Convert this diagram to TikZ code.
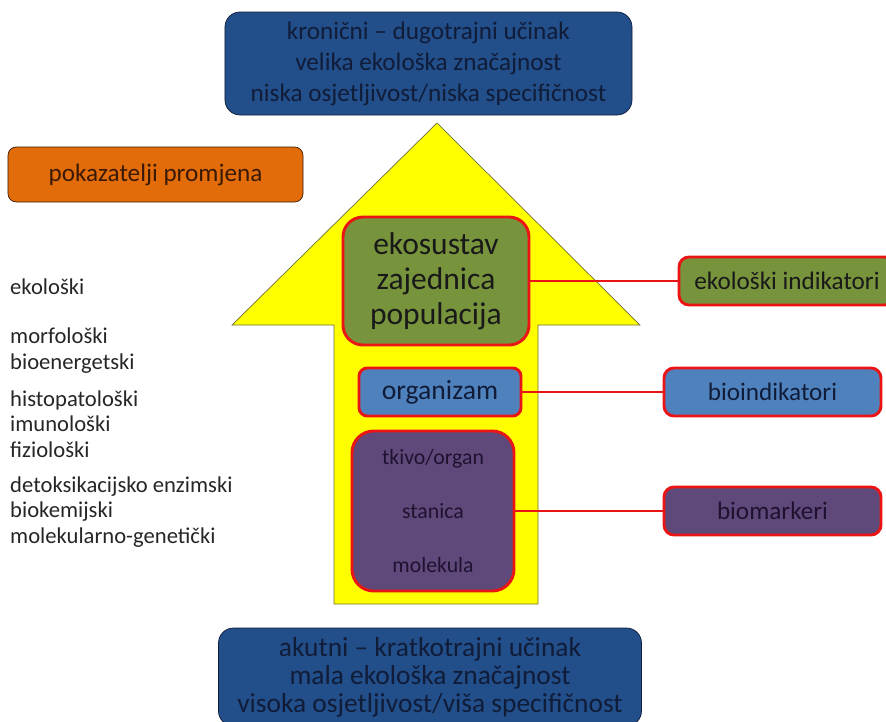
\documentclass[tikz,border=0pt]{standalone}
\usepackage{fontspec}
\setmainfont{Carlito}

\definecolor{boxnavy}{RGB}{34,78,138}
\definecolor{textnavy}{RGB}{16,28,56}
\definecolor{boxorange}{RGB}{227,108,10}
\definecolor{textbrown}{RGB}{58,26,6}
\definecolor{arrowyellow}{RGB}{255,255,0}
\definecolor{arrowedge}{RGB}{110,110,60}
\definecolor{boxgreen}{RGB}{119,147,60}
\definecolor{boxblue}{RGB}{79,129,189}
\definecolor{boxpurple}{RGB}{95,73,122}
\definecolor{textpurple}{RGB}{30,18,48}
\definecolor{linered}{RGB}{235,20,20}

\begin{document}
\begin{tikzpicture}[x=0.03cm, y=-0.03cm,
    effectbox/.style={draw=textnavy, line width=0.6pt, fill=boxnavy, text=textnavy,
        rounded corners=0.45cm, align=center, inner sep=0pt,
        font=\fontsize{21.5}{26.5}\selectfont},
    levelbox/.style={draw=linered, line width=2.5pt, rounded corners=0.3cm,
        align=center, inner sep=0pt},
    indbox/.style={levelbox, rounded corners=0.3cm, minimum width=6.51cm,
        minimum height=1.44cm, font=\fontsize{21.5}{26}\selectfont},
    sidetext/.style={anchor=west, align=left, inner sep=0pt, text=black!85,
        font=\fontsize{19.3}{21.8}\selectfont},
    redline/.style={draw=linered, line width=2.5pt}]

    % Picture size is 886 x 722 pixels, one unit = one pixel
    \useasboundingbox (0,0) rectangle (886,722);
    \clip (0,0) rectangle (886,722);

    % Corners of the big yellow arrow
    \coordinate (tip) at (437,123);
    \coordinate (headR) at (640,325);
    \coordinate (headL) at (232,325);
    \coordinate (shaftR) at (538,325);
    \coordinate (shaftL) at (334,325);

    % Draw the arrow pointing up
    \draw[fill=arrowyellow, draw=arrowedge, line width=0.6pt]
        (tip) -- (headR) -- (shaftR) -- (538,604) -- (334,604) -- (shaftL) -- (headL) -- cycle;

    % Top and bottom boxes with the type of effect
    \node[effectbox, minimum width=12.21cm, minimum height=3.09cm] (chronic) at (428.5,63.5)
        {kronični – dugotrajni učinak\\velika ekološka značajnost\\niska osjetljivost/niska specifičnost};
    \node[effectbox, minimum width=12.69cm, minimum height=2.94cm,
        font=\fontsize{23.4}{24}\selectfont] (acute) at (430,677)
        {akutni – kratkotrajni učinak\\mala ekološka značajnost\\visoka osjetljivost/viša specifičnost};

    % Orange title box on the left
    \node[draw=textbrown, line width=0.6pt, fill=boxorange, text=textbrown,
        rounded corners=0.25cm, minimum width=8.85cm, minimum height=1.65cm,
        font=\fontsize{21.5}{26}\selectfont] (changes) at (155.5,174.5) {pokazatelji promjena};

    % Levels of organisation inside the arrow
    \node[levelbox, fill=boxgreen, text=black!90, rounded corners=0.6cm,
        minimum width=5.58cm, minimum height=3.84cm,
        font=\fontsize{26.9}{29.9}\selectfont] (eco) at (436,281)
        {ekosustav\\zajednica\\populacija};
    \node[levelbox, fill=boxblue, text=textnavy, rounded corners=0.25cm,
        minimum width=4.86cm, minimum height=1.44cm,
        font=\fontsize{23.6}{26}\selectfont] (org) at (440,392) {organizam};
    \node[levelbox, fill=boxpurple, text=textpurple, rounded corners=0.65cm,
        minimum width=4.86cm, minimum height=4.8cm,
        font=\fontsize{18.6}{45.7}\selectfont] (cell) at (433,511)
        {tkivo/organ\\stanica\\molekula};

    % Kinds of indicators on the right
    \node[indbox, fill=boxgreen, text=black!90, minimum width=6.48cm] (ecoind) at (787,281) {ekološki indikatori};
    \node[indbox, fill=boxblue, text=textnavy] (bioind) at (772.5,392) {bioindikatori};
    \node[indbox, fill=boxpurple, text=textpurple] (biomark) at (772.5,511) {biomarkeri};

    % Red lines joining the levels to the indicators
    \draw[redline] (eco.east) -- (ecoind.west);
    \draw[redline] (org.east) -- (bioind.west);
    \draw[redline] (cell.east) -- (biomark.west);

    % Lists of indicator types on the left
    \node[sidetext] (grpA) at (10,287) {ekološki};
    \node[sidetext] (grpB) at (10,350.5) {morfološki\\bioenergetski};
    \node[sidetext] (grpC) at (10,424) {histopatološki\\imunološki\\fiziološki};
    \node[sidetext] (grpD) at (10,512) {detoksikacijsko enzimski\\biokemijski\\molekularno-genetički};

\end{tikzpicture}
\end{document}
